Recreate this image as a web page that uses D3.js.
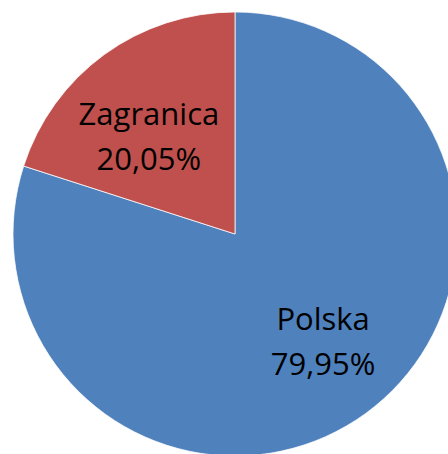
<!DOCTYPE html>
<html>
<head>
<meta charset="utf-8">
<script src="https://cdn.jsdelivr.net/npm/d3@7"></script>
<style>
  html, body { margin: 0; padding: 0; background: #fff; }
  svg { display: block; }
</style>
</head>
<body>
<svg id="chart" width="448" height="454"></svg>
<script>
// data
const categories = ['Polska', 'Zagranica'];
const shares = [79.95, 20.05];
const colors = ['#4F81BD', '#C0504D'];

const width = 448, height = 454;
const cx = 235, cy = 234, radius = 222;

const plFormat = d3.formatLocale({decimal: ',', thousands: ' ', grouping: [3], currency: ['', ' zł']}).format('.2f');

const svg = d3.select('#chart');
const g = svg.append('g').attr('transform', `translate(${cx},${cy})`);

const pie = d3.pie().sort(null).value(d => d.value);
const arcs = pie(categories.map((c, i) => ({name: c, value: shares[i], color: colors[i]})));

const arc = d3.arc().innerRadius(0).outerRadius(radius);

g.selectAll('path')
    .data(arcs)
    .join('path')
    .attr('d', arc)
    .attr('fill', d => d.data.color)
    .attr('stroke', '#fff')
    .attr('stroke-width', 0.75);

// labels sit a bit inside, nudged like excel's best fit
const labelR = radius * 0.607;
const lineGap = 45;
const labels = g.selectAll('text')
    .data(arcs)
    .join('text')
    .attr('transform', d => {
        const a = (d.startAngle + d.endAngle) / 2 - 0.073;
        return `translate(${Math.sin(a) * labelR + 1},${-Math.cos(a) * labelR})`;
    })
    .attr('text-anchor', 'middle')
    .attr('font-family', '"Open Sans", "Noto Sans", sans-serif')
    .attr('font-size', 31)
    .attr('fill', '#000');

labels.append('tspan')
    .attr('x', 0)
    .attr('y', -lineGap / 2 + 16)
    .text(d => d.data.name);
labels.append('tspan')
    .attr('x', 0)
    .attr('y', lineGap / 2 + 16)
    .text(d => plFormat(d.data.value) + '%');
</script>
</body>
</html>
